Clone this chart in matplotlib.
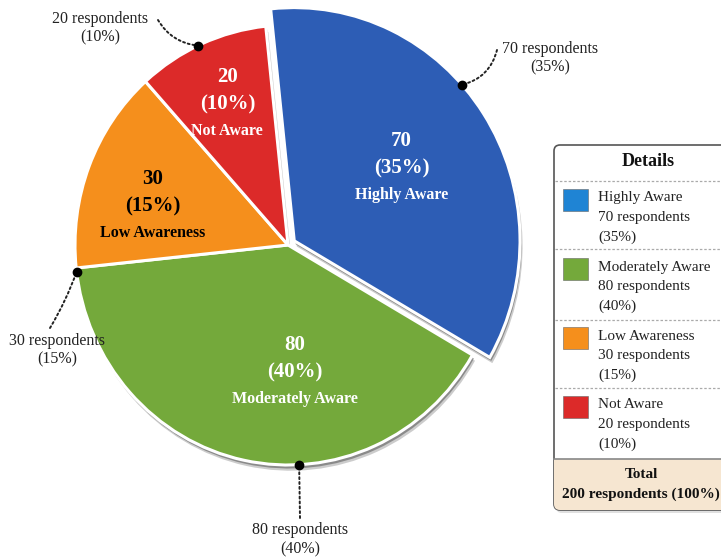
import matplotlib
matplotlib.use("Agg")
import matplotlib.pyplot as plt
import numpy as np
from matplotlib.patches import Wedge, FancyBboxPatch, Rectangle

# ---- data ----
categories = ["Highly Aware", "Moderately Aware", "Low Awareness", "Not Aware"]
respondents = [70, 80, 30, 20]
total = sum(respondents)
percents = [round(v * 100 / total) for v in respondents]

slice_colors = ["#2D5DB5", "#74A93B", "#F58F1C", "#DC2A29"]
swatch_colors = ["#1F84D4", "#74A93B", "#F58F1C", "#DC2A29"]
label_colors = ["white", "white", "black", "white"]
explode = [0.035, 0, 0, 0]

plt.rcParams["font.family"] = ["Liberation Serif", "DejaVu Serif"]

W, H = 721, 559
CX, CY = 288, 245      # pie centre in pixels
RX, RY = 213, 220      # horizontal / vertical pixel size of one radius unit

fig = plt.figure(figsize=(W / 100, H / 100), dpi=100)
fig.patch.set_facecolor("white")
ax = fig.add_axes([0, 0, 1, 1])


def P(px, py):
    """pixel position -> pie data coordinates"""
    return ((px - CX) / RX, (CY - py) / RY)


wedges, _ = ax.pie(
    respondents, colors=slice_colors, startangle=96, counterclock=False,
    explode=explode, radius=1.0, frame=True,
    wedgeprops=dict(edgecolor="white", linewidth=2.2),
)
ax.set_xlim(-CX / RX, (W - CX) / RX)
ax.set_ylim(-(H - CY) / RY, CY / RY)
ax.set_aspect("auto")
ax.axis("off")

# slightly enlarged exploded slice and a soft drop shadow under every slice
wedges[0].set_radius(1.06)
for w in wedges:
    w.set_zorder(3)
    cx, cy = w.center
    for k, (dx, dy, a) in enumerate([(0.012, -0.026, 0.28), (0.007, -0.016, 0.50)]):
        sh = Wedge((cx + dx, cy + dy), w.r, w.theta1, w.theta2,
                   facecolor="#4a4a4a", edgecolor="none", alpha=a, zorder=1 + k)
        ax.add_patch(sh)

# labels inside slices
label_r = [0.60, 0.58, 0.66, 0.70]
label_shift = [0, 15, 5.5, 0]
for i, w in enumerate(wedges):
    mid = np.deg2rad((w.theta1 + w.theta2) / 2 + label_shift[i])
    cx, cy = w.center
    x = cx + label_r[i] * np.cos(mid)
    y = cy + label_r[i] * np.sin(mid)
    c = label_colors[i]
    ax.text(x, y + 0.125, f"{respondents[i]}", ha="center", va="center",
            color=c, fontsize=15, fontweight="bold", zorder=6)
    ax.text(x, y, f"({percents[i]}%)", ha="center", va="center",
            color=c, fontsize=15, fontweight="bold", zorder=6)
    ax.text(x, y - 0.12, categories[i], ha="center", va="center",
            color=c, fontsize=11.5, fontweight="bold", zorder=6)

# outside callouts: angle of the dot on the rim, text position, curve
callout_angle = [42, -87, 187, 115]
callout_text = [(550, 58), (300, 540), (57, 350), (100, 28)]
callout_end = [(497, 50), (300, 518), (50, 328), (158, 20)]
callout_rad = [-0.3, 0.0, 0.05, 0.25]
for i, w in enumerate(wedges):
    a = np.deg2rad(callout_angle[i])
    cx, cy = w.center
    dot = (cx + w.r * np.cos(a), cy + w.r * np.sin(a))
    ax.plot(*dot, marker="o", markersize=6, color="black", zorder=8)
    ax.annotate("", xy=dot, xytext=P(*callout_end[i]),
                arrowprops=dict(arrowstyle="-", linestyle=(0, (1, 1.5)), lw=1.4,
                                color="#222222",
                                connectionstyle=f"arc3,rad={callout_rad[i]}",
                                shrinkA=0, shrinkB=0), zorder=7)
    tx, ty = P(*callout_text[i])
    ax.text(tx, ty, f"{respondents[i]} respondents\n({percents[i]}%)",
            ha="center", va="center", fontsize=11.5, color="#222222",
            linespacing=1.25, zorder=7)

# ---- details panel (pixel coordinates) ----
lg = fig.add_axes([0, 0, 1, 1], facecolor="none")
lg.set_xlim(0, W)
lg.set_ylim(H, 0)
lg.axis("off")

bx0, by0, bx1, by1 = 554, 145, 732, 510
shadow = FancyBboxPatch((bx0 + 2, by0 + 3), bx1 - bx0, by1 - by0,
                        boxstyle="round,pad=0,rounding_size=6",
                        facecolor="#000000", alpha=0.12, edgecolor="none", zorder=1)
lg.add_patch(shadow)
box = FancyBboxPatch((bx0, by0), bx1 - bx0, by1 - by0,
                     boxstyle="round,pad=0,rounding_size=6",
                     facecolor="white", edgecolor="#555555", linewidth=1.2, zorder=2)
lg.add_patch(box)
tot_bg = Rectangle((bx0, 459), bx1 - bx0, by1 - 459, facecolor="#F6E6D1",
                   edgecolor="none", zorder=3)
tot_bg.set_clip_path(box)
lg.add_patch(tot_bg)
lg.plot([bx0, bx1], [459, 459], color="#888888", lw=1.2, zorder=4)

lg.text(648, 162, "Details", ha="center", va="center", fontsize=13,
        fontweight="bold", color="#111111", zorder=5)
for yline in [181, 249, 320, 388]:
    lg.plot([bx0 + 1, bx1], [yline, yline], color="#AAAAAA", lw=0.9,
            linestyle=(0, (2, 1.5)), zorder=4)

row_top = [189, 258, 327, 396]
for i in range(len(categories)):
    y0 = row_top[i]
    lg.add_patch(Rectangle((563, y0), 25, 22, facecolor=swatch_colors[i],
                           edgecolor="#666666", linewidth=0.4, zorder=5))
    lines = [categories[i], f"{respondents[i]} respondents", f"({percents[i]}%)"]
    for j, t in enumerate(lines):
        lg.text(598, y0 + 9 + j * 19.5, t, ha="left", va="center",
                fontsize=11, color="#222222", zorder=5)

lg.text(641, 474, "Total", ha="center", va="center", fontsize=11,
        fontweight="bold", color="#111111", zorder=5)
lg.text(641, 494, f"{total} respondents (100%)", ha="center", va="center",
        fontsize=11, fontweight="bold", color="#111111", zorder=5)

fig.savefig("out.png", dpi=100, facecolor="white")
